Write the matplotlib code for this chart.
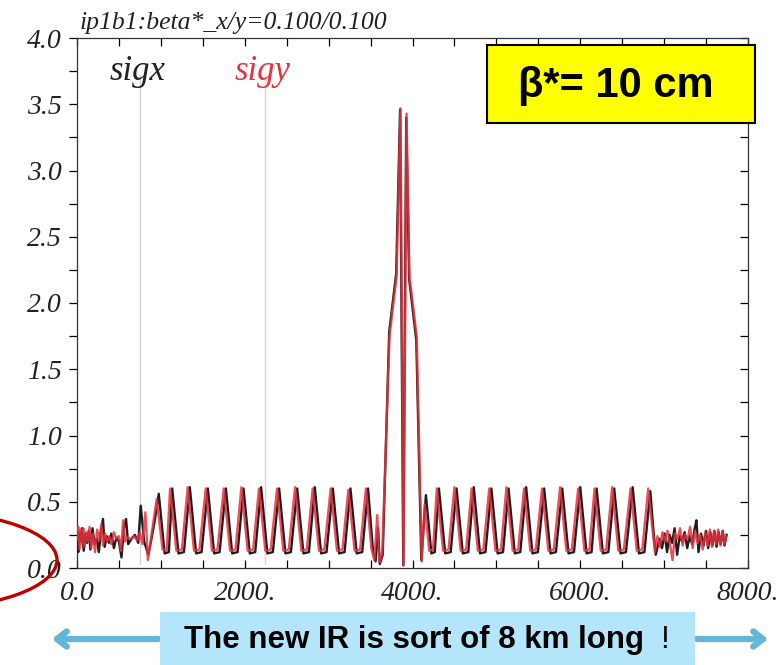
import matplotlib
matplotlib.use("Agg")
import matplotlib.pyplot as plt
from matplotlib.patches import Rectangle, Ellipse
from matplotlib.ticker import MultipleLocator
from matplotlib.lines import TICKLEFT

# --- data (s in m, beam size in mm) ---
# sigy (red): left noise, arc, IR, arc, right noise
sigy_s = [0, 15, 30, 45, 60, 75, 90, 110, 130, 150, 170, 190, 215, 240, 265, 290, 310, 335, 360, 385,
          410, 440, 470, 500, 525, 550, 575, 600, 640, 680, 720, 750,
          780, 815, 845, 900, 950, 1020, 1070,
          1110, 1185, 1250, 1320, 1395, 1460, 1535, 1610, 1675, 1750, 1825, 1890,
          1960, 2035, 2100, 2170, 2245, 2310, 2385, 2460, 2525, 2600, 2675, 2740,
          2810, 2885, 2950, 3025, 3100, 3165, 3235, 3310, 3375, 3445,
          3510, 3545, 3580, 3605, 3640, 3726, 3810, 3857, 3893, 3929, 3964, 4050, 4110,
          4145, 4200, 4245,
          4290, 4365, 4430, 4500, 4575, 4640, 4705, 4780, 4845, 4915, 4990, 5055,
          5120, 5195, 5260, 5330, 5405, 5470, 5545, 5620, 5685, 5760, 5835, 5900,
          5975, 6050, 6110, 6170, 6245, 6310, 6380, 6455, 6520, 6600, 6675, 6740, 6810,
          6860, 6890, 6920, 6950, 6980, 7010, 7040, 7070, 7100, 7130, 7160, 7190, 7220,
          7250, 7280, 7310, 7340, 7370, 7400, 7430, 7460, 7490, 7520, 7545, 7570, 7595,
          7620, 7645, 7670, 7695, 7720, 7740]
sigy = [0.22, 0.31, 0.14, 0.29, 0.18, 0.30, 0.16, 0.27, 0.20, 0.31, 0.15, 0.26, 0.12, 0.29, 0.21, 0.33, 0.17, 0.26, 0.20, 0.24,
        0.18, 0.27, 0.22, 0.24, 0.13, 0.36, 0.20, 0.23, 0.22, 0.24, 0.21, 0.27,
        0.18, 0.42, 0.06, 0.30, 0.52, 0.14, 0.13,
        0.60, 0.13, 0.14, 0.61, 0.13, 0.14, 0.60, 0.13, 0.14, 0.60, 0.13, 0.14,
        0.61, 0.13, 0.14, 0.60, 0.13, 0.14, 0.60, 0.13, 0.14, 0.61, 0.13, 0.14,
        0.60, 0.13, 0.14, 0.60, 0.13, 0.14, 0.59, 0.13, 0.14, 0.60,
        0.15, 0.06, 0.40, 0.04, 0.12, 1.75, 2.20, 3.47, 0.02, 3.43, 2.20, 1.75, 0.05,
        0.48, 0.13, 0.14,
        0.60, 0.13, 0.14, 0.61, 0.13, 0.14, 0.60, 0.13, 0.14, 0.60, 0.13, 0.14,
        0.61, 0.13, 0.14, 0.60, 0.13, 0.14, 0.60, 0.13, 0.14, 0.61, 0.13, 0.14,
        0.60, 0.13, 0.14, 0.60, 0.13, 0.14, 0.61, 0.13, 0.14, 0.60, 0.13, 0.14, 0.60,
        0.30, 0.12, 0.24, 0.16, 0.27, 0.20, 0.28, 0.18, 0.06, 0.26, 0.22, 0.30, 0.17,
        0.25, 0.22, 0.31, 0.15, 0.28, 0.19, 0.25, 0.14, 0.27, 0.17, 0.29, 0.16, 0.28,
        0.18, 0.29, 0.17, 0.28, 0.18, 0.24]

# sigx (black)
sigx_s = [0, 15, 30, 45, 60, 80, 100, 120, 140, 160, 185, 210, 235, 260, 285, 310, 330, 355, 380, 410,
          440, 470, 500, 530, 560, 585, 610, 650, 690, 730,
          760, 800, 850, 870, 925, 975, 1045, 1095,
          1135, 1210, 1275, 1345, 1420, 1485, 1560, 1635, 1700, 1775, 1850, 1915,
          1985, 2060, 2125, 2195, 2270, 2335, 2410, 2485, 2550, 2625, 2700, 2765,
          2835, 2910, 2975, 3050, 3125, 3190, 3260, 3335, 3400, 3470,
          3530, 3560, 3590, 3610, 3645, 3722, 3805, 3852, 3890, 3925, 3960, 4045, 4105,
          4160, 4225, 4265,
          4315, 4390, 4455, 4525, 4600, 4665, 4730, 4805, 4870, 4940, 5015, 5080,
          5145, 5220, 5285, 5355, 5430, 5495, 5570, 5645, 5710, 5785, 5860, 5925,
          6000, 6075, 6135, 6195, 6270, 6335, 6405, 6480, 6545, 6625, 6700, 6765, 6835,
          6870, 6900, 6945, 6975, 7005, 7035, 7065, 7095, 7125, 7155, 7185, 7215, 7245,
          7275, 7305, 7335, 7365, 7385, 7410, 7440, 7470, 7500, 7525, 7550, 7575, 7600,
          7625, 7650, 7675, 7700, 7720, 7745]
sigx = [0.25, 0.12, 0.27, 0.20, 0.30, 0.13, 0.26, 0.19, 0.28, 0.14, 0.30, 0.18, 0.22, 0.12, 0.27, 0.37, 0.16, 0.24, 0.19, 0.26,
        0.15, 0.23, 0.20, 0.08, 0.30, 0.37, 0.18, 0.22, 0.25, 0.19,
        0.47, 0.20, 0.10, 0.16, 0.35, 0.56, 0.11, 0.12,
        0.60, 0.11, 0.12, 0.61, 0.11, 0.12, 0.60, 0.11, 0.12, 0.60, 0.11, 0.12,
        0.60, 0.11, 0.12, 0.61, 0.11, 0.12, 0.60, 0.11, 0.12, 0.60, 0.11, 0.12,
        0.61, 0.11, 0.12, 0.60, 0.11, 0.12, 0.60, 0.11, 0.12, 0.60,
        0.12, 0.05, 0.30, 0.03, 0.10, 1.78, 2.22, 3.46, 0.02, 3.40, 2.18, 1.72, 0.06,
        0.55, 0.11, 0.12,
        0.60, 0.11, 0.12, 0.60, 0.11, 0.12, 0.61, 0.11, 0.12, 0.60, 0.11, 0.12,
        0.60, 0.11, 0.12, 0.61, 0.11, 0.12, 0.60, 0.11, 0.12, 0.60, 0.11, 0.12,
        0.61, 0.11, 0.12, 0.60, 0.11, 0.12, 0.60, 0.11, 0.12, 0.61, 0.11, 0.12, 0.58,
        0.30, 0.10, 0.22, 0.15, 0.26, 0.12, 0.25, 0.19, 0.30, 0.10, 0.24, 0.20, 0.27,
        0.15, 0.24, 0.18, 0.30, 0.36, 0.12, 0.26, 0.17, 0.28, 0.15, 0.27, 0.17, 0.28,
        0.16, 0.27, 0.18, 0.28, 0.17, 0.25]

x_ticks = [0, 2000, 4000, 6000, 8000]
x_tick_labels = ["0.0", "2000.", "4000.", "6000.", "8000."]
y_ticks = [0.0, 0.5, 1.0, 1.5, 2.0, 2.5, 3.0, 3.5, 4.0]
y_tick_labels = ["0.0", "0.5", "1.0", "1.5", "2.0", "2.5", "3.0", "3.5", "4.0"]
marker_sigx_s = 750
marker_sigy_s = 2240

TITLE = "ip1b1:beta*_x/y=0.100/0.100"
BETA_TEXT = "\u03b2*= 10 cm"
NOTE_TEXT = "The new IR is sort of 8 km long"

W, H = 778, 665
fig = plt.figure(figsize=(W / 100, H / 100), dpi=100)
serif = "Liberation Serif"

ax = fig.add_axes([77 / W, 1 - 568 / H, 671 / W, 530 / H])
ax.set_xlim(0, 8000)
ax.set_ylim(0, 4.0)

# faint marker lines from the MAD plot
ax.plot([marker_sigx_s, marker_sigx_s], [0.03, 3.72], color="#d4d4d4", lw=1.0, zorder=1)
ax.plot([marker_sigy_s, marker_sigy_s], [0.03, 3.72], color="#f6c6cf", lw=1.0, zorder=1)

ax.plot(sigx_s, sigx, color="#1e1e1e", lw=1.7, zorder=3)
ax.plot(sigy_s, sigy, color="#e5333f", lw=1.7, alpha=0.85, zorder=4)

ax.set_xticks(x_ticks)
ax.set_xticklabels(x_tick_labels)
ax.set_yticks(y_ticks)
ax.set_yticklabels(y_tick_labels)
ax.xaxis.set_minor_locator(MultipleLocator(500))
ax.yaxis.set_minor_locator(MultipleLocator(0.25))

for lab in ax.get_xticklabels() + ax.get_yticklabels():
    lab.set_fontfamily(serif)
    lab.set_fontstyle("italic")
    lab.set_fontsize(20)
    lab.set_color("#222222")

ax.tick_params(axis="x", which="both", direction="in", top=True, length=6, width=0.9, pad=9)
ax.tick_params(axis="y", which="both", direction="out", length=6, width=0.9, pad=5)
ax.tick_params(axis="y", which="both", right=True)
# right ticks point inward
for t in ax.yaxis.get_major_ticks() + ax.yaxis.get_minor_ticks():
    t.tick2line.set_marker(TICKLEFT)
for sp in ax.spines.values():
    sp.set_linewidth(0.9)
    sp.set_color("#333333")

ax.text(33 / 671, (568 - 80) / 530, "sigx", transform=ax.transAxes, family=serif,
        style="italic", fontsize=25, color="#222222", va="baseline")
ax.text(158 / 671, (568 - 80) / 530, "sigy", transform=ax.transAxes, family=serif,
        style="italic", fontsize=25, color="#e5333f", va="baseline")

fig.text(80 / W, 1 - 29 / H, TITLE, family=serif, style="italic", fontsize=18.5,
         color="#222222", va="baseline", ha="left")

# yellow beta* box
fig.patches.append(Rectangle((487 / W, 1 - 123 / H), 268 / W, 78 / H, transform=fig.transFigure,
                             facecolor="#ffff00", edgecolor="black", lw=1.5, zorder=5))
fig.text(616 / W, 1 - 86 / H, BETA_TEXT, family="Liberation Sans", weight="bold", fontsize=30,
         ha="center", va="center", zorder=6)

# light blue note box with arrows
fig.patches.append(Rectangle((160 / W, 0), 535 / W, 53 / H, transform=fig.transFigure,
                             facecolor="#b5e5fa", edgecolor="none", zorder=5))
fig.text(414 / W, 25 / H, NOTE_TEXT, family="Liberation Sans",
         weight="bold", fontsize=22.5, ha="center", va="center", zorder=6)
fig.text(664 / W, 25 / H, "!", family="Liberation Sans",
         fontsize=22.5, ha="center", va="center", zorder=6)

arrow_col = "#62b6d6"
for x0, x1 in [(158, 52), (697, 768)]:
    ax.annotate("", xy=(x1 / W, 26 / H), xytext=(x0 / W, 26 / H), xycoords="figure fraction",
                textcoords="figure fraction",
                arrowprops=dict(arrowstyle="->,head_length=0.7,head_width=0.55", color=arrow_col,
                                lw=4.5, shrinkA=0, shrinkB=0))

# red circle fragment at the origin label
fig.patches.append(Ellipse((-80 / W, 1 - 560 / H), 274 / W, 98 / H, transform=fig.transFigure,
                           facecolor="none", edgecolor="#c00000", lw=2.4, zorder=7))

fig.savefig("out.png", dpi=100)
